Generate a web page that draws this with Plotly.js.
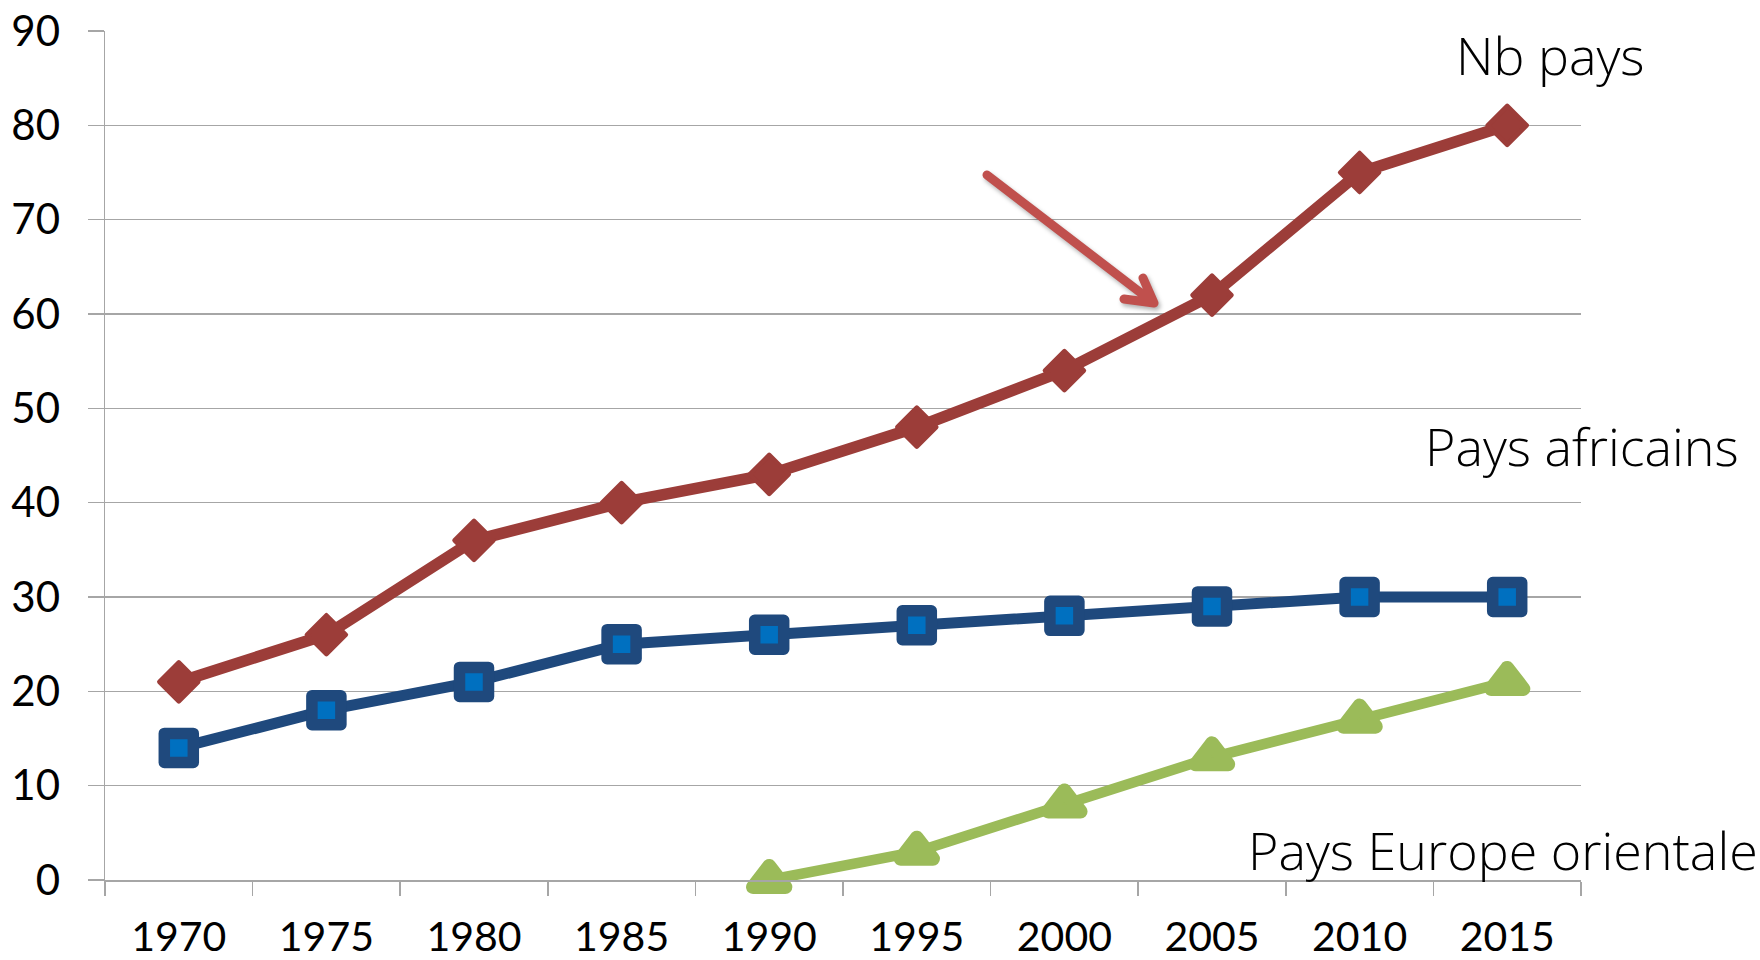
<!DOCTYPE html>
<html>
<head>
<meta charset="utf-8">
<script src="https://cdn.plot.ly/plotly-3.0.1.min.js"></script>
<style>
  html, body { margin: 0; padding: 0; background: #fff; }
  #chart { width: 1760px; height: 960px; }
  .scatterlayer .points path { stroke-linejoin: round; }
  .shapelayer path { stroke-linecap: round; stroke-linejoin: round; filter: drop-shadow(2px 3px 2px rgba(0,0,0,0.3)); }
</style>
</head>
<body>
<div id="chart"></div>
<script>
// ---- data ----
const years = ['1970','1975','1980','1985','1990','1995','2000','2005','2010','2015'];
const nbPays = [21, 26, 36, 40, 43, 48, 54, 62, 75, 80];
const paysAfricains = [14, 18, 21, 25, 26, 27, 28, 29, 30, 30];
const paysEuropeOrientale = [null, null, null, null, 0, 3, 8, 13, 17, 21];
const yTicks = [0, 10, 20, 30, 40, 50, 60, 70, 80, 90];
const labelNb = 'Nb pays';
const labelAfr = 'Pays africains';
const labelEur = 'Pays Europe orientale';

// ---- layout helpers ----
const W = 1760, H = 960;
const M = { l: 105, r: 179, t: 31, b: 80 };
const PW = W - M.l - M.r, PH = H - M.t - M.b;
const px = x => (x - M.l) / PW;
const py = y => (H - M.b - y) / PH;

const traces = [
  {
    x: years, y: nbPays, type: 'scatter', mode: 'lines+markers', name: labelNb, cliponaxis: false,
    line: { color: '#9C3D39', width: 11.5 },
    marker: { symbol: 'diamond', size: 30, color: '#9C3D39', line: { color: '#9C3D39', width: 4.5 } }
  },
  {
    x: years, y: paysAfricains, type: 'scatter', mode: 'lines+markers', name: labelAfr, cliponaxis: false,
    line: { color: '#1F497D', width: 11 },
    marker: { symbol: 'square', size: 29, color: '#0070C0', line: { color: '#1F497D', width: 11.5 } }
  },
  {
    x: years, y: paysEuropeOrientale, type: 'scatter', mode: 'lines+markers', name: labelEur, cliponaxis: false,
    line: { color: '#9BBB59', width: 10.5 },
    marker: { symbol: 'triangle-up', size: 28, color: '#9BBB59', line: { color: '#9BBB59', width: 14 } },
    connectgaps: false
  }
];

const arrowPts = [[987,175],[1154,303]];
const headPts = [[1143,278],[1154,303],[1124,299]];
const arrowPath = 'M ' + px(arrowPts[0][0]) + ' ' + py(arrowPts[0][1]) +
  ' L ' + px(arrowPts[1][0]) + ' ' + py(arrowPts[1][1]) +
  ' M ' + px(headPts[0][0]) + ' ' + py(headPts[0][1]) +
  ' L ' + px(headPts[1][0]) + ' ' + py(headPts[1][1]) +
  ' L ' + px(headPts[2][0]) + ' ' + py(headPts[2][1]);

const annFont = { family: 'Open Sans, sans-serif', size: 52, color: '#000', weight: 300 };
const layout = {
  width: W, height: H,
  margin: M,
  paper_bgcolor: '#fff', plot_bgcolor: '#fff',
  showlegend: false,
  font: { family: 'Lato, sans-serif', color: '#000' },
  xaxis: {
    type: 'category',
    range: [-0.5, 9.5],
    showgrid: false,
    showline: true, linecolor: '#a6a6a6', linewidth: 1.5,
    ticks: 'outside', tickson: 'boundaries', ticklen: 14, tickwidth: 1.5, tickcolor: '#a6a6a6',
    tickfont: { family: 'Lato, sans-serif', size: 41, color: '#000' },
    ticklabelstandoff: 20,
    zeroline: false, fixedrange: true
  },
  yaxis: {
    range: [0, 90],
    tickvals: yTicks,
    ticktext: yTicks.map(String),
    showgrid: true, gridcolor: '#a6a6a6', gridwidth: 1.5,
    showline: true, linecolor: '#a6a6a6', linewidth: 1.5,
    ticks: 'outside', ticklen: 16, tickwidth: 1.5, tickcolor: '#a6a6a6',
    tickfont: { family: 'Lato, sans-serif', size: 42, color: '#000' },
    ticklabelstandoff: 19,
    zeroline: false, fixedrange: true
  },
  shapes: [
    { type: 'path', xref: 'paper', yref: 'paper', path: arrowPath, line: { color: '#C0504D', width: 9 } }
  ],
  annotations: [
    { text: labelNb, xref: 'paper', yref: 'paper', x: px(1550), y: py(55), xanchor: 'center', yanchor: 'middle', showarrow: false, font: annFont },
    { text: labelAfr, xref: 'paper', yref: 'paper', x: px(1582), y: py(445), xanchor: 'center', yanchor: 'middle', showarrow: false, font: annFont },
    { text: labelEur, xref: 'paper', yref: 'paper', x: px(1503), y: py(849), xanchor: 'center', yanchor: 'middle', showarrow: false, font: annFont }
  ]
};

Plotly.newPlot('chart', traces, layout, { displayModeBar: false, staticPlot: true });
</script>
</body>
</html>
